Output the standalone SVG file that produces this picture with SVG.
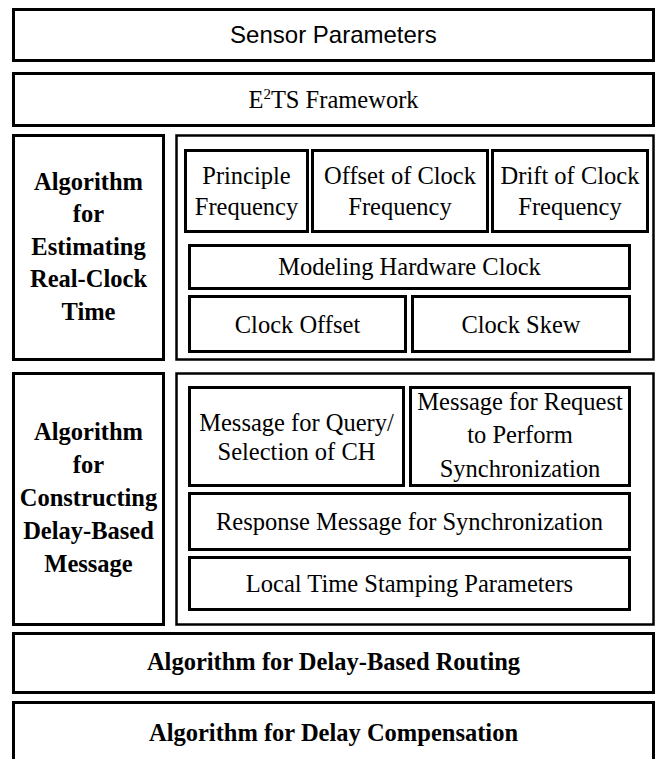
<svg xmlns="http://www.w3.org/2000/svg" width="657" height="759" viewBox="0 0 657 759">
  <style>
    .box { fill: #ffffff; stroke: #000000; stroke-width: 3; }
    .frame { fill: #ffffff; stroke: #000000; stroke-width: 2.5; }
    .bold { font-weight: bold; }
    .sans { font-family: "Liberation Sans", Arial, sans-serif; font-size: 24px; fill: #000000; text-anchor: middle; }
  </style>
  <rect width="657" height="759" fill="#ffffff"/>

  <g id="sensor-parameters">
    <rect class="box" x="13.5" y="9.5" width="640" height="51"/>
    <text class="sans" x="333.5" y="43">Sensor Parameters</text>
  </g>

  <!-- all remaining labels share one serif text style -->
  <g font-family="Liberation Serif, Times New Roman, Noto Serif, DejaVu Serif, FreeSerif, serif" font-size="24.5" fill="#000000" text-anchor="middle">

  <g id="e2ts-framework">
    <rect class="box" x="13.5" y="73.5" width="640" height="52"/>
    <text x="333.5" y="108">E<tspan font-size="15" dy="-9">2</tspan><tspan dy="9">TS Framework</tspan></text>
  </g>

  <!-- Real-clock estimation section -->
  <g id="alg-real-clock">
    <rect class="box" x="13.5" y="135.5" width="150" height="224"/>
    <text class="bold" x="88.5" y="190">Algorithm</text>
    <text class="bold" x="88.5" y="222">for</text>
    <text class="bold" x="88.5" y="255">Estimating</text>
    <text class="bold" x="88.5" y="287">Real-Clock</text>
    <text class="bold" x="88.5" y="320">Time</text>
  </g>
  <g id="clock-frame">
    <rect class="frame" x="176.5" y="135.5" width="477" height="224"/>
  </g>
  <g id="principle-frequency">
    <rect class="box" x="185.5" y="150.5" width="122" height="81"/>
    <text x="246.5" y="184">Principle</text>
    <text x="246.5" y="215">Frequency</text>
  </g>
  <g id="offset-clock-frequency">
    <rect class="box" x="312.5" y="150.5" width="175" height="81"/>
    <text x="400" y="184">Offset of Clock</text>
    <text x="400" y="215">Frequency</text>
  </g>
  <g id="drift-clock-frequency">
    <rect class="box" x="492.5" y="150.5" width="155" height="81"/>
    <text x="570" y="184">Drift of Clock</text>
    <text x="570" y="215">Frequency</text>
  </g>
  <g id="modeling-hardware-clock">
    <rect class="box" x="189.5" y="245.5" width="440" height="43"/>
    <text x="409.5" y="275">Modeling Hardware Clock</text>
  </g>
  <g id="clock-offset">
    <rect class="box" x="189.5" y="296.5" width="216" height="55"/>
    <text x="297.5" y="333">Clock Offset</text>
  </g>
  <g id="clock-skew">
    <rect class="box" x="412.5" y="296.5" width="217" height="55"/>
    <text x="521" y="333">Clock Skew</text>
  </g>

  <!-- Delay-based message section -->
  <g id="alg-delay-message">
    <rect class="box" x="13.5" y="373.5" width="150" height="251"/>
    <text class="bold" x="88.5" y="440">Algorithm</text>
    <text class="bold" x="88.5" y="473">for</text>
    <text class="bold" x="88.5" y="506">Constructing</text>
    <text class="bold" x="88.5" y="539">Delay-Based</text>
    <text class="bold" x="88.5" y="572">Message</text>
  </g>
  <g id="message-frame">
    <rect class="frame" x="176.5" y="373.5" width="477" height="251"/>
  </g>
  <g id="query-message">
    <rect class="box" x="189.5" y="387.5" width="214" height="98"/>
    <text x="296.5" y="431">Message for Query/</text>
    <text x="296.5" y="460">Selection of CH</text>
  </g>
  <g id="request-message">
    <rect class="box" x="410.5" y="387.5" width="219" height="98"/>
    <text x="520" y="410">Message for Request</text>
    <text x="520" y="443">to Perform</text>
    <text x="520" y="477">Synchronization</text>
  </g>
  <g id="response-message">
    <rect class="box" x="189.5" y="493.5" width="440" height="56"/>
    <text x="409.5" y="530">Response Message for Synchronization</text>
  </g>
  <g id="local-time-stamping">
    <rect class="box" x="189.5" y="557.5" width="440" height="52"/>
    <text x="409.5" y="592">Local Time Stamping Parameters</text>
  </g>

  <g id="alg-delay-routing">
    <rect class="box" x="13.5" y="633.5" width="640" height="59"/>
    <text class="bold" x="333.5" y="670">Algorithm for Delay-Based Routing</text>
  </g>
  <g id="alg-delay-compensation">
    <rect class="box" x="13.5" y="702.5" width="640" height="70"/>
    <text class="bold" x="333.5" y="741">Algorithm for Delay Compensation</text>
  </g>

  </g>

  <g id="connectors"></g>
</svg>
